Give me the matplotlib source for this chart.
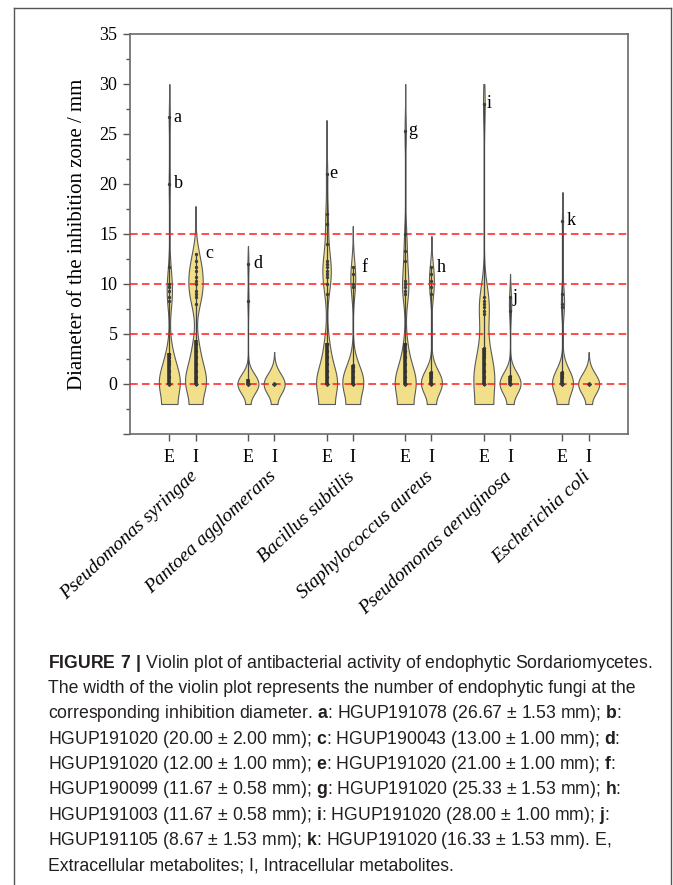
import numpy as np
import matplotlib
matplotlib.use("Agg")
import matplotlib.pyplot as plt
from matplotlib.lines import Line2D

plt.rcParams['font.family'] = ['Liberation Serif', 'DejaVu Serif']
plt.rcParams['mathtext.fontset'] = 'custom'
plt.rcParams['mathtext.rm'] = 'Liberation Sans'
plt.rcParams['mathtext.bf'] = 'Liberation Sans:bold'

bacteria = ['Pseudomonas syringae', 'Pantoea agglomerans', 'Bacillus subtilis',
            'Staphylococcus aureus', 'Pseudomonas aeruginosa', 'Escherichia coli']

# inhibition zone diameters (mm) of the fungi, E = extracellular, I = intracellular
ps_E = [0]*16 + [0.67, 1.33, 2, 2.33, 2.67, 3, 3] + [8.33, 8.67, 9.33, 9.67, 10, 11.67, 20, 26.67]
ps_I = [0]*8 + [0.67, 1.33, 2, 2.67, 3.33, 4] + [8, 8.67, 9, 9.33, 10, 10.33, 10.67, 11.33, 11.67, 12.33, 13]
pa_E = [0]*20 + [0.33] + [8.33, 12]
pa_I = [0]*20
bs_E = [0]*14 + [0.67, 1.33, 2, 2.67, 3.33, 4, 4] + [9, 10, 10.67, 11, 11.33, 11.67, 12, 12.33, 14, 16, 17, 21]
bs_I = [0]*12 + [0.67, 1.33, 1.67, 1.9] + [9.67, 10, 11, 11.67]
sa_E = [0]*14 + [0.67, 1.33, 2, 2.67, 3.33, 4] + [9, 9.33, 9.67, 10, 10.33, 12.33, 13.33, 15, 25.33]
sa_I = [0]*14 + [0.67, 1, 1.23] + [9, 9.67, 10.33, 11, 11.67]
pae_E = [0]*8 + [0.67, 1.33, 2, 2.67, 3, 3.33, 3.6] + [7, 7.33, 7.67, 8, 8.33, 8.67, 28]
pae_I = [0]*14 + [0.5, 0.8] + [7.33, 8.67]
ec_E = [0]*16 + [0.67, 1, 1.23] + [7.67, 8, 9, 16.33]
ec_I = [0]*20

data = [ps_E, ps_I, pa_E, pa_I, bs_E, bs_I, sa_E, sa_I, pae_E, pae_I, ec_E, ec_I]
bw = [1.6, 1.5, 1.0, 1.05, 1.6, 1.5, 1.6, 1.2, 2.0, 1.1, 1.3, 1.05]
box_top = [3.13, 4.4, 0.5, 0, 4.07, 1.9, 4.07, 1.23, 3.63, 0.8, 1.23, 0]
violin_top = [30, 17.8, 13.8, 3.2, 26.4, 15.8, 30, 14.8, 30, 11, 19.2, 3.2]
violin_bottom = -2

# letters for the strongest strains
marks = [(0, 26.67, 'a'), (0, 20, 'b'), (1, 13, 'c'), (2, 12, 'd'), (4, 21, 'e'),
         (5, 11.67, 'f'), (6, 25.33, 'g'), (7, 11.67, 'h'), (8, 28, 'i'),
         (9, 8.67, 'j'), (10, 16.33, 'k')]
mark_dx = [3, 3, 7, 4, 2, 6, 2, 4, 2, 2, 3]

pos = [3*(i//2) + i % 2 for i in range(len(data))]

fig = plt.figure(figsize=(6.73, 8.85), dpi=100)
ax = fig.add_axes([130/673, 1-434/885, 498/673, 400/885])

fill_c = '#F1DF8A'
for k, vals in enumerate(data):
    v = np.asarray(vals, float)
    y = np.linspace(violin_bottom, violin_top[k], 400)
    h = bw[k]
    d = np.exp(-0.5*((y[:, None]-v[None, :])/h)**2).sum(1)
    d += np.exp(-0.5*((y[:, None]-(2*violin_bottom-v)[None, :])/h)**2).sum(1)
    w = 0.4*d/d.max()
    x0 = pos[k]
    ax.fill_betweenx(y, x0-w, x0+w, facecolor=fill_c, edgecolor='#5a5a5a', lw=0.8, zorder=2)
    ax.plot([x0, x0], [box_top[k], v.max()], color='#444444', lw=0.9, zorder=3)
    ax.plot(np.full(len(v), x0), v, 'o', ms=2.4, color='#3c3c3c', mec='none', zorder=4)
    if box_top[k] > 0:
        ax.plot([x0, x0], [0, box_top[k]], color='#333333', lw=2.6, solid_capstyle='butt', zorder=5)

for yv in [0, 5, 10, 15]:
    ax.axhline(yv, color='#FF1A1A', lw=1.1, linestyle=(0, (5, 2.8)), zorder=3.5)

for (k, yv, letter), dx in zip(marks, mark_dx):
    ax.annotate(letter, (pos[k], yv), xytext=(dx, 0), textcoords='offset points',
                ha='left', va='center', fontsize=13)

ax.set_xlim(-1.5, 17.5)
ax.set_ylim(-5, 35)
ax.set_xticks(pos)
ax.set_xticklabels(['E', 'I']*6, fontsize=13)
ax.set_yticks(np.arange(-5, 36, 5))
ax.set_yticklabels([''] + [str(t) for t in range(0, 36, 5)], fontsize=13)
ax.set_yticks(np.arange(-2.5, 35, 5), minor=True)
ax.tick_params(axis='both', which='major', direction='out', length=5, width=1, color='#555555', pad=4)
ax.tick_params(axis='x', pad=6)
ax.tick_params(axis='y', which='minor', direction='out', length=3, width=1, color='#555555')
for s in ax.spines.values():
    s.set_color('#6a6a6a')
    s.set_linewidth(1.2)
ax.set_ylabel('Diameter of the inhibition zone / mm', fontsize=15, labelpad=9)

for i, name in enumerate(bacteria):
    ax.text(3*i + 0.75, -0.085, name, transform=ax.get_xaxis_transform(), rotation=43,
            rotation_mode='anchor', ha='right', va='top', fontsize=14, style='italic')

# outer frame of the figure panel
fig.add_artist(Line2D([14/673, 14/673], [0, 1-8/885], color='#555555', lw=1))
fig.add_artist(Line2D([14/673, 671/673], [1-8/885, 1-8/885], color='#555555', lw=1))
fig.add_artist(Line2D([671/673, 671/673], [0, 1-8/885], color='#555555', lw=1))

caption = [
    r"$\mathbf{FIGURE\ 7\ |}$ Violin plot of antibacterial activity of endophytic Sordariomycetes.",
    "The width of the violin plot represents the number of endophytic fungi at the",
    r"corresponding inhibition diameter. $\mathbf{a}$: HGUP191078 (26.67 ± 1.53 mm); $\mathbf{b}$:",
    r"HGUP191020 (20.00 ± 2.00 mm); $\mathbf{c}$: HGUP190043 (13.00 ± 1.00 mm); $\mathbf{d}$:",
    r"HGUP191020 (12.00 ± 1.00 mm); $\mathbf{e}$: HGUP191020 (21.00 ± 1.00 mm); $\mathbf{f}$:",
    r"HGUP190099 (11.67 ± 0.58 mm); $\mathbf{g}$: HGUP191020 (25.33 ± 1.53 mm); $\mathbf{h}$:",
    r"HGUP191003 (11.67 ± 0.58 mm); $\mathbf{i}$: HGUP191020 (28.00 ± 1.00 mm); $\mathbf{j}$:",
    r"HGUP191105 (8.67 ± 1.53 mm); $\mathbf{k}$: HGUP191020 (16.33 ± 1.53 mm). E,",
    "Extracellular metabolites; I, Intracellular metabolites.",
]
for n, line in enumerate(caption):
    fig.text(48/673, 1-(663+25.4*n)/885, line, family='Liberation Sans', fontsize=12.7,
             color='#231F20', ha='left', va='center')

fig.savefig('out.png', dpi=100)
